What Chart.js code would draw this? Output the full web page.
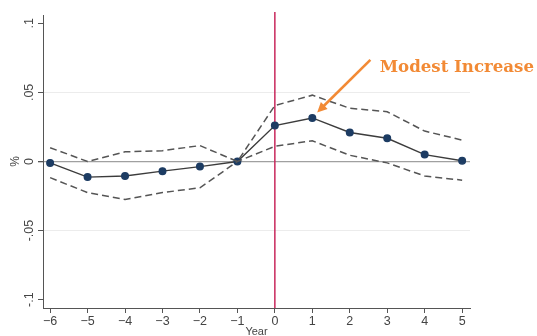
<!DOCTYPE html>
<html>
<head>
<meta charset="utf-8">
<script src="https://cdn.jsdelivr.net/npm/chart.js@4"></script>
<style>
  html, body { margin: 0; padding: 0; background: #fff; }
  #wrap { width: 537px; height: 336px; }
</style>
</head>
<body>
<div id="wrap"><canvas id="event-chart" width="537" height="336"></canvas></div>
<script>
// event-study years and estimates
const years = [-6, -5, -4, -3, -2, -1, 0, 1, 2, 3, 4, 5];
const estimate = [-0.001, -0.0113, -0.0105, -0.007, -0.0037, 0, 0.026, 0.0315, 0.021, 0.0168, 0.005, 0.0005];
const upperCI = [0.0100, 0, 0.007, 0.0078, 0.0115, 0, 0.0405, 0.048, 0.0385, 0.036, 0.022, 0.0155];
const lowerCI = [-0.0117, -0.0225, -0.0275, -0.0225, -0.019, 0, 0.0110, 0.0150, 0.0045, -0.0010, -0.0105, -0.0135];

const yTickValues = [-0.1, -0.05, 0, 0.05, 0.1];
const yTickLabels = ["-.1", "-.05", "0", ".05", ".1"];
const eventYear = 0;

const annotationText = "Modest Increase";
const arrowFrom = { x: 2.55, y: 0.0735 };
const arrowTo = { x: 1.13, y: 0.0355 };
const textAt = { x: 2.8, y: 0.068 };

const ctx = document.getElementById("event-chart").getContext("2d");

function pts(vals) {
  return years.map((x, i) => ({ x, y: vals[i] }));
}

const extras = {
  id: "extras",
  beforeDatasetsDraw(chart) {
    const { ctx, chartArea, scales } = chart;
    const x0 = scales.x.getPixelForValue(eventYear);
    ctx.save();
    ctx.strokeStyle = "#c8275c";
    ctx.lineWidth = 1.5;
    ctx.beginPath();
    ctx.moveTo(x0, chartArea.top - 3);
    ctx.lineTo(x0, chartArea.bottom);
    ctx.stroke();
    ctx.restore();
  },
  afterDraw(chart) {
    const { ctx, scales } = chart;
    const y = scales.y;
    const x = scales.x;
    ctx.save();
    // rotated y tick labels
    ctx.fillStyle = "#444";
    ctx.font = "12.5px 'Liberation Sans', Arial, sans-serif";
    ctx.textAlign = "center";
    ctx.textBaseline = "middle";
    yTickValues.forEach((v, i) => {
      const py = y.getPixelForValue(v);
      ctx.save();
      ctx.translate(y.right - 13, py);
      ctx.rotate(-Math.PI / 2);
      ctx.fillText(yTickLabels[i], 0, 0);
      ctx.restore();
    });

    // annotation arrow
    const ax = x.getPixelForValue(arrowFrom.x), ay = y.getPixelForValue(arrowFrom.y);
    const bx = x.getPixelForValue(arrowTo.x), by = y.getPixelForValue(arrowTo.y);
    const ang = Math.atan2(by - ay, bx - ax);
    const head = 11;
    ctx.strokeStyle = "#f28a35";
    ctx.fillStyle = "#f28a35";
    ctx.lineWidth = 2.6;
    ctx.beginPath();
    ctx.moveTo(ax, ay);
    ctx.lineTo(bx - Math.cos(ang) * head * 0.8, by - Math.sin(ang) * head * 0.8);
    ctx.stroke();
    ctx.beginPath();
    ctx.moveTo(bx, by);
    ctx.lineTo(bx - head * Math.cos(ang - 0.45), by - head * Math.sin(ang - 0.45));
    ctx.lineTo(bx - head * Math.cos(ang + 0.45), by - head * Math.sin(ang + 0.45));
    ctx.closePath();
    ctx.fill();

    // fit the label to the width it takes in the original
    let size = 16;
    ctx.font = "bold " + size + "px 'DejaVu Serif', 'Liberation Serif', serif";
    size = Math.min(18, size * 154 / ctx.measureText(annotationText).width);
    ctx.font = "bold " + size.toFixed(1) + "px 'DejaVu Serif', 'Liberation Serif', serif";
    ctx.textAlign = "left";
    ctx.textBaseline = "middle";
    ctx.fillText(annotationText, x.getPixelForValue(textAt.x), y.getPixelForValue(textAt.y));
    ctx.restore();
  }
};

new Chart(ctx, {
  type: "line",
  data: {
    datasets: [
      {
        data: pts(upperCI),
        borderColor: "#555",
        borderWidth: 1.5,
        borderDash: [7, 4],
        pointRadius: 0,
        tension: 0
      },
      {
        data: pts(lowerCI),
        borderColor: "#555",
        borderWidth: 1.5,
        borderDash: [7, 4],
        pointRadius: 0,
        tension: 0
      },
      {
        data: pts(estimate),
        borderColor: "#3c3c3c",
        borderWidth: 1.4,
        pointRadius: 3.3,
        pointBackgroundColor: "#1d3c63",
        pointBorderColor: "#1d3c63",
        tension: 0
      }
    ]
  },
  options: {
    responsive: false,
    animation: false,
    events: [],
    layout: { padding: { top: 15, right: 67, left: 0, bottom: 0 } },
    plugins: {
      legend: { display: false },
      tooltip: { enabled: false }
    },
    scales: {
      x: {
        type: "linear",
        min: -6.19,
        max: 5.21,
        afterBuildTicks: s => { s.ticks = years.map(v => ({ value: v })); },
        afterFit: s => { s.height = 28; },
        border: { color: "#555", width: 1 },
        grid: { drawOnChartArea: false, drawTicks: true, tickLength: 5, tickColor: "#555" },
        ticks: {
          color: "#444",
          padding: 1,
          maxRotation: 0,
          font: { family: "'Liberation Sans', Arial, sans-serif", size: 12.5 },
          callback: v => String(v).replace("-", "\u2212")
        },
        title: {
          display: true,
          text: "Year",
          color: "#444",
          padding: { top: 0, bottom: -3 },
          font: { family: "'Liberation Sans', Arial, sans-serif", size: 11 }
        }
      },
      y: {
        min: -0.106,
        max: 0.106,
        afterBuildTicks: s => { s.ticks = yTickValues.map(v => ({ value: v })); },
        afterFit: s => { s.width = 43; },
        border: { color: "#555", width: 1 },
        grid: {
          drawTicks: true,
          tickLength: 5,
          tickColor: "#555",
          color: c => {
            const v = c.tick ? c.tick.value : null;
            if (v === 0) return "#a0a0a0";
            if (Math.abs(v) === 0.05) return "#ececec";
            return "rgba(0,0,0,0)";
          },
          lineWidth: c => (c.tick && c.tick.value === 0 ? 1.3 : 1)
        },
        ticks: { display: false },
        title: {
          display: true,
          text: "%",
          color: "#444",
          padding: { top: 8, bottom: 0 },
          font: { family: "'Liberation Sans', Arial, sans-serif", size: 12 }
        }
      }
    }
  },
  plugins: [extras]
});
</script>
</body>
</html>
